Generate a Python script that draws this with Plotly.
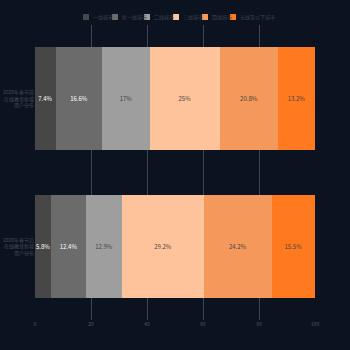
import plotly.graph_objects as go

categories = ["2020年春节后<br>在线教育新增<br>用户分布", "2020年春节前<br>在线教育新增<br>用户分布"]
series_names = ["一线城市", "新一线城市", "二线城市", "三线城市", "四线城市", "五线及以下城市"]
values = {
    "一线城市": [5.8, 7.4],
    "新一线城市": [12.4, 16.6],
    "二线城市": [12.9, 17],
    "三线城市": [29.2, 25],
    "四线城市": [24.2, 20.8],
    "五线及以下城市": [15.5, 13.2],
}
colors = ["#474747", "#6b6b6b", "#9e9e9e", "#ffc39b", "#f5985c", "#ff7a1f"]
text_colors = ["#ffffff", "#ffffff", "#444444", "#444444", "#444444", "#444444"]
x_ticks = [0, 20, 40, 60, 80, 100]
legend_x = [83, 112, 144, 173, 202, 230]  # legend item left positions (px)

W = H = 350
fig = go.Figure()
for name, c, tc in zip(series_names, colors, text_colors):
    v = values[name]
    fig.add_trace(go.Bar(
        y=categories, x=v, name=name, orientation="h",
        marker=dict(color=c, line=dict(width=0)),
        text=[f"{x:g}%" for x in v], textposition="inside", textangle=0,
        insidetextanchor="middle", constraintext="none",
        textfont=dict(color=tc, size=6, family="Noto Sans CJK SC"),
    ))

# custom legend
for name, c, lx in zip(series_names, colors, legend_x):
    fig.add_shape(type="rect", xref="paper", yref="paper",
                  x0=(lx - 35) / 280, x1=(lx - 35 + 6) / 280,
                  y0=(350 - 30 - 20) / 295, y1=(350 - 30 - 14) / 295,
                  fillcolor=c, line=dict(width=0))
    fig.add_annotation(xref="paper", yref="paper", x=(lx - 35 + 8) / 280, y=(350 - 30 - 17) / 295,
                       text=name, showarrow=False, xanchor="left", yanchor="middle",
                       font=dict(size=5, color="#3c414b", family="Noto Sans CJK SC"))

fig.update_layout(
    barmode="stack", bargap=0.3,
    width=W, height=H,
    margin=dict(l=35, r=35, t=25, b=30),
    paper_bgcolor="#0b1220", plot_bgcolor="#0b1220",
    font=dict(family="Noto Sans CJK SC", size=5, color="#555b66"),
    showlegend=False,
    uniformtext=dict(minsize=5, mode="show"),
)
fig.update_xaxes(range=[0, 100], tickvals=x_ticks, showgrid=True, gridcolor="#40454f",
                 gridwidth=1, zeroline=False, showline=False, automargin=False,
                 tickfont=dict(size=5, color="#555b66"))
fig.update_yaxes(showgrid=False, zeroline=False, showline=False, automargin=False,
                 ticks="", ticklabelstandoff=0,
                 tickfont=dict(size=5, color="#464c57"))
fig.write_html("out.html")
